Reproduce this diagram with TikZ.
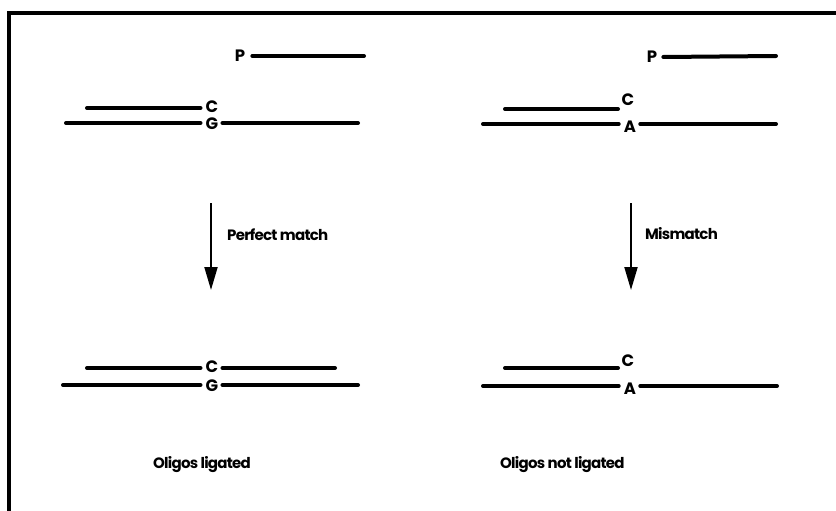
\documentclass[tikz,border=0pt]{standalone}
\usepackage{fontspec}
\setmainfont{Poppins}
\newfontfamily\labelfont[LetterSpace=-5]{Poppins}
\usetikzlibrary{arrows.meta}

\begin{document}
\begin{tikzpicture}[x=1pt,y=-1pt,
  strand/.style={line width=4pt, line cap=round},
  base/.style={font=\fontsize{16.5}{16.5}\selectfont\bfseries, inner sep=0pt},
  caption/.style={font=\labelfont\fontsize{15}{15}\selectfont\bfseries, inner sep=0pt, anchor=west},
  flow/.style={line width=2pt, -{Triangle[length=23pt,width=13pt]}}]
\useasboundingbox (0,0) rectangle (836,511);

% frame
\draw[line width=4pt] (9,530) -- (9,13) -- (850,13);

% ---------- left panel, before ligation ----------
\node[base] (pL) at (240,56) {P};
\coordinate (pLe) at (364,56);
\draw[strand] ([xshift=7pt]pL.east) -- (pLe);

\node[base] (cL) at (212,107) {C};
\coordinate (cLs) at (87,108);
\draw[strand] (cLs) -- ([xshift=-5pt]cL.west |- cLs);

\node[base] (gL) at (212,124) {G};
\coordinate (gLs) at (66,123);
\coordinate (gLe) at (358,123);
\draw[strand] (gLs) -- ([xshift=-5pt]gL.west |- gLs);
\draw[strand] ([xshift=4pt]gL.east |- gLe) -- (gLe);

% ---------- right panel, before ligation ----------
\node[base] (pR) at (652,57) {P};
\coordinate (pRe) at (776,56);
\draw[strand] ([xshift=6pt]pR.east) -- (pRe);

\node[base] (cR) at (628,100) {C};
\coordinate (cRs) at (505,109);
\coordinate (cRe) at (618,109);
\draw[strand] (cRs) -- (cRe);

\node[base] (aR) at (630,127) {A};
\coordinate (aRs) at (483,124);
\coordinate (aRe) at (776,124);
\draw[strand] (aRs) -- ([xshift=-5pt]aR.west |- aRs);
\draw[strand] ([xshift=4pt]aR.east |- aRe) -- (aRe);

% ---------- arrows ----------
\coordinate (fL) at (211,203);
\coordinate (tL) at (211,290);
\draw[flow] (fL) -- (tL);
\node[caption] (mL) at (227,235) {Perfect match};

\coordinate (fR) at (631,203);
\coordinate (tR) at (631,290);
\draw[flow] (fR) -- (tR);
\node[caption] (mR) at (645,234) {Mismatch};

% ---------- left panel, after ligation ----------
\node[base] (cL2) at (212,367) {C};
\coordinate (cL2s) at (87,368);
\coordinate (cL2e) at (335,368);
\draw[strand] (cL2s) -- ([xshift=-5pt]cL2.west |- cL2s);
\draw[strand] ([xshift=4pt]cL2.east |- cL2e) -- (cL2e);

\node[base] (gL2) at (212,386) {G};
\coordinate (gL2s) at (63,385);
\coordinate (gL2e) at (358,385);
\draw[strand] (gL2s) -- ([xshift=-5pt]gL2.west |- gL2s);
\draw[strand] ([xshift=4pt]gL2.east |- gL2e) -- (gL2e);

% ---------- right panel, after ligation ----------
\node[base] (cR2) at (628,361) {C};
\coordinate (cR2s) at (505,368);
\coordinate (cR2e) at (618,368);
\draw[strand] (cR2s) -- (cR2e);

\node[base] (aR2) at (630,389) {A};
\coordinate (aR2s) at (483,386);
\coordinate (aR2e) at (777,386);
\draw[strand] (aR2s) -- ([xshift=-5pt]aR2.west |- aR2s);
\draw[strand] ([xshift=4pt]aR2.east |- aR2e) -- (aR2e);

% ---------- captions ----------
\node[caption] (oL) at (153,465) {Oligos ligated};
\node[caption] (oR) at (500,465) {Oligos not ligated};
\end{tikzpicture}
\end{document}
